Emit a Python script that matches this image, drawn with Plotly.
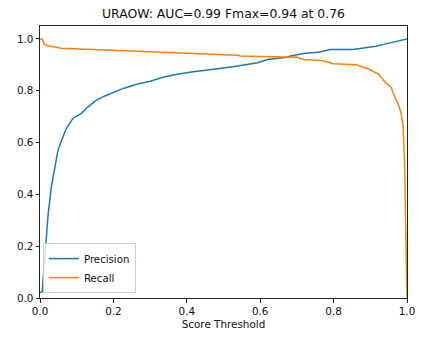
import plotly.graph_objects as go

title_text = "URAOW: AUC=0.99 Fmax=0.94 at 0.76"

prec_x = [0.0, 0.006, 0.015, 0.022, 0.031, 0.040, 0.049, 0.058, 0.072, 0.090, 0.112, 0.130,
          0.152, 0.175, 0.202, 0.229, 0.264, 0.30, 0.34, 0.377, 0.413, 0.458, 0.494, 0.53,
          0.575, 0.593, 0.62, 0.646, 0.673, 0.682, 0.718, 0.763, 0.79, 0.853, 0.889, 0.915,
          0.942, 0.969, 1.0]
prec_y = [0.02, 0.025, 0.19, 0.32, 0.43, 0.505, 0.57, 0.605, 0.655, 0.694, 0.712, 0.737,
          0.762, 0.779, 0.794, 0.81, 0.825, 0.837, 0.854, 0.865, 0.872, 0.879, 0.887, 0.894,
          0.902, 0.908, 0.921, 0.925, 0.929, 0.934, 0.944, 0.95, 0.959, 0.959, 0.966, 0.972,
          0.981, 0.991, 1.0]

rec_x = [0.0, 0.006, 0.012, 0.022, 0.058, 0.13, 0.22, 0.31, 0.377, 0.44, 0.5, 0.539, 0.545,
         0.637, 0.70, 0.718, 0.772, 0.799, 0.862, 0.897, 0.915, 0.924, 0.938, 0.956, 0.969,
         0.974, 0.983, 0.989, 0.993, 0.996, 0.9985, 1.0]
rec_y = [1.0, 1.0, 0.979, 0.974, 0.964, 0.96, 0.954, 0.95, 0.947, 0.944, 0.94, 0.937, 0.934,
         0.931, 0.929, 0.921, 0.916, 0.904, 0.9, 0.883, 0.869, 0.862, 0.837, 0.815, 0.769,
         0.756, 0.719, 0.669, 0.544, 0.356, 0.17, 0.0]

tick_vals = [0.0, 0.2, 0.4, 0.6, 0.8, 1.0]
tick_text = ["0.0", "0.2", "0.4", "0.6", "0.8", "1.0"]

fig = go.Figure()
fig.add_trace(go.Scatter(x=prec_x, y=prec_y, mode="lines", name="Precision",
                         line=dict(color="#1f77b4", width=1.5)))
fig.add_trace(go.Scatter(x=rec_x, y=rec_y, mode="lines", name="Recall",
                         line=dict(color="#ff7f0e", width=1.5)))

font_family = "DejaVu Sans"
text_color = "#111111"
axis_common = dict(showgrid=False, zeroline=False, showline=True, mirror=True,
                   linecolor="#222222", linewidth=1, ticks="outside", ticklen=3.5,
                   tickwidth=0.8, tickcolor="#222222", tickvals=tick_vals, ticktext=tick_text,
                   tickfont=dict(family=font_family, size=10.4, color=text_color))

W, H = 427, 340
fig.update_layout(
    width=W, height=H, autosize=False,
    margin=dict(l=40, r=14.5, t=25.7, b=35),
    paper_bgcolor="white", plot_bgcolor="white",
    font=dict(family=font_family, color=text_color),
    title=dict(text=title_text, x=0.5, xref="paper", y=1 - 14 / H, yref="container",
               xanchor="center", yanchor="middle",
               font=dict(family=font_family, size=12.4, color=text_color)),
    xaxis=dict(range=[0, 1], title=dict(text="Score Threshold", standoff=4,
                                        font=dict(family=font_family, size=10.4)),
               **axis_common),
    yaxis=dict(range=[0, 1.05], **axis_common),
    legend=dict(x=0.008, y=0.018, xanchor="left", yanchor="bottom",
                bgcolor="rgba(255,255,255,0.8)", bordercolor="#cccccc", borderwidth=1,
                font=dict(family=font_family, size=10.2), itemwidth=30),
    showlegend=True,
)

fig.write_html("out.html",
               config={"displayModeBar": False},
               post_script="document.body.style.margin='0';document.documentElement.style.overflow='hidden';")
